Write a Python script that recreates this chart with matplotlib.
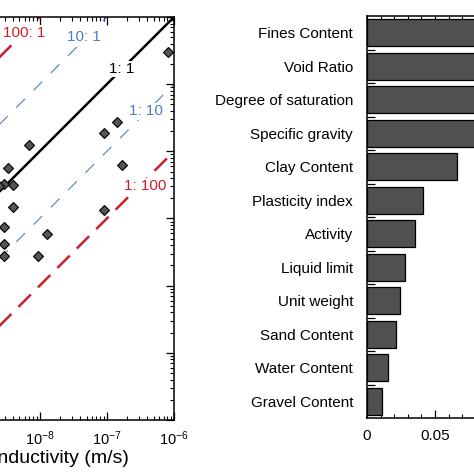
import numpy as np
import matplotlib
matplotlib.use('Agg')
import matplotlib.pyplot as plt
from matplotlib.ticker import FuncFormatter, MultipleLocator, FixedLocator

plt.rcParams['font.family'] = ['Liberation Sans', 'DejaVu Sans']
plt.rcParams['mathtext.fontset'] = 'custom'
plt.rcParams['mathtext.rm'] = 'Liberation Sans'
plt.rcParams['mathtext.it'] = 'Liberation Sans:italic'
plt.rcParams['mathtext.bf'] = 'Liberation Sans:bold'

# measured vs predicted hydraulic conductivity (m/s)
k_measured = [8.13e-7, 1.40e-7, 9.12e-8, 6.92e-9, 3.37e-9, 1.69e-7, 2.93e-9, 3.99e-9,
              2.44e-9, 3.99e-9, 9.12e-8, 2.93e-9, 1.30e-8, 2.93e-9, 2.93e-9, 9.44e-9]
k_predicted = [3.01e-7, 2.74e-8, 1.87e-8, 1.23e-8, 5.71e-9, 6.18e-9, 3.21e-9, 3.11e-9,
               3.01e-9, 1.47e-9, 1.35e-9, 7.41e-10, 5.92e-10, 4.19e-10, 2.81e-10, 2.77e-10]

ratios = [100, 10, 1, 0.1, 0.01]
ratio_names = ['100: 1', '10: 1', '1: 1', '1: 10', '1: 100']

# feature importance
features = ['Fines Content', 'Void Ratio', 'Degree of saturation', 'Specific gravity',
            'Clay Content', 'Plasticity index', 'Activity', 'Liquid limit',
            'Unit weight', 'Sand Content', 'Water Content', 'Gravel Content']
importance = [0.14, 0.13, 0.12, 0.11, 0.066, 0.041, 0.0353, 0.0277,
              0.0245, 0.0213, 0.0152, 0.0113]

W = 474.0
fig = plt.figure(figsize=(4.74, 4.74), dpi=100)

# ---- left panel (partly outside the picture) ----
ax1 = fig.add_axes([-229 / W, (W - 420) / W, 403 / W, 403 / W])
ax1.set_xscale('log')
ax1.set_yscale('log')
ax1.set_xlim(1e-12, 1e-6)
ax1.set_ylim(1e-12, 1e-6)

red = '#cc1f2b'
blue = '#4d7cc9'
styles = {
    100: dict(color=red, lw=1.8, dashes=(7, 4)),
    10: dict(color=blue, lw=0.8, dashes=(11, 11)),
    1: dict(color='black', lw=1.8, ls='-'),
    0.1: dict(color=blue, lw=0.8, dashes=(11, 11)),
    0.01: dict(color=red, lw=1.8, dashes=(7, 4)),
}
xx = np.array([1e-14, 1e-4])
for r in ratios:
    ax1.plot(xx, r * xx, zorder=2, **styles[r])

ax1.plot(k_measured, k_predicted, ls='none', marker='D', ms=5.3,
         mfc='#555555', mec='black', mew=0.8, zorder=4, clip_on=False)

label_pos = {
    '100: 1': (10 ** -8.552, 10 ** -6.239, 'left', red),
    '10: 1': (10 ** -7.343, 10 ** -6.299, 'center', blue),
    '1: 1': (10 ** -6.776, 10 ** -6.776, 'center', 'black'),
    '1: 10': (10 ** -6.418, 10 ** -7.403, 'center', blue),
    '1: 100': (10 ** -6.433, 10 ** -8.522, 'center', red),
}
for name in ratio_names:
    x, y, ha, c = label_pos[name]
    ax1.text(x, y, name, color=c, fontsize=11, ha=ha, va='center', zorder=3,
             bbox=dict(fc='white', ec='none', pad=1.0))

ax1.tick_params(which='both', direction='in', top=True, right=True, labelsize=10.5, pad=7)
ax1.tick_params(which='major', length=6, width=0.9)
ax1.tick_params(which='minor', length=3, width=0.8)
for s in ax1.spines.values():
    s.set_linewidth(1.1)
ax1.set_xlabel('Measured hydraulic conductivity (m/s)', fontsize=14)
ax1.xaxis.set_label_coords(0.5 - 8 / 403, -0.075)
ax1.set_ylabel('Predicted hydraulic conductivity (m/s)', fontsize=14)

# ---- right panel ----
xmax = 0.15
ax2 = fig.add_axes([367 / W, (W - 418) / W, (68 * xmax / 0.05) / W, 402 / W])
ypos = np.arange(len(features))
ax2.barh(ypos, importance, height=0.8, color='#505050', edgecolor='black', lw=0.9, zorder=2)
ax2.set_xlim(0, xmax)
ax2.set_ylim(len(features) - 0.5, -0.5)
ax2.set_yticks(ypos)
ax2.set_yticklabels(features, fontsize=11)
ax2.yaxis.set_minor_locator(FixedLocator(ypos[:-1] + 0.5))
ax2.tick_params(axis='y', which='major', length=0, pad=10)
ax2.tick_params(axis='y', which='minor', direction='in', length=6, width=0.9, right=True)
ax2.xaxis.set_major_locator(MultipleLocator(0.05))
ax2.xaxis.set_minor_locator(MultipleLocator(0.01))
ax2.xaxis.set_major_formatter(FuncFormatter(lambda v, p: '%g' % round(v, 4)))
ax2.tick_params(axis='x', which='both', direction='in', top=True, labelsize=11, pad=8)
ax2.tick_params(axis='x', which='major', length=6, width=0.9)
ax2.tick_params(axis='x', which='minor', length=3, width=0.8)
for s in ax2.spines.values():
    s.set_linewidth(1.1)

fig.savefig('out.png', dpi=100)
